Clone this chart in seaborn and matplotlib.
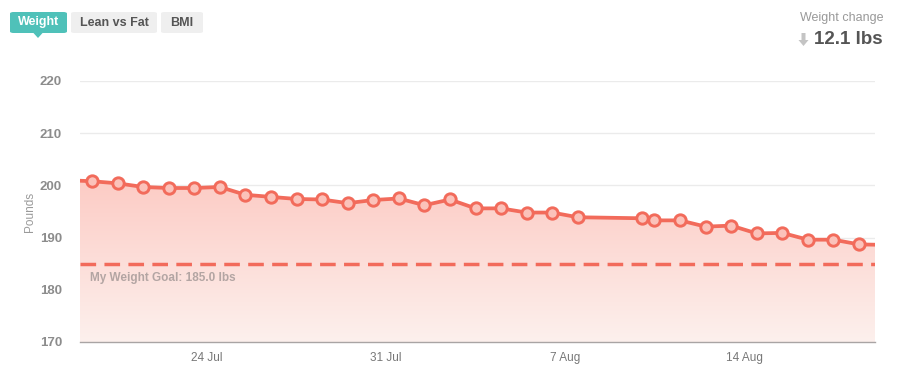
import numpy as np
import pandas as pd
import matplotlib
matplotlib.use("Agg")
import matplotlib.pyplot as plt
import matplotlib.dates as mdates
from matplotlib.patches import FancyBboxPatch, Polygon
from matplotlib.colors import LinearSegmentedColormap
import seaborn as sns

# ---------------- data ----------------
dates = [
    "2017-07-18 12:00",  # lead-in point (off-chart, left)
    "2017-07-19 12:00", "2017-07-20 12:00", "2017-07-21 12:00", "2017-07-22 12:00",
    "2017-07-23 12:00", "2017-07-24 12:00", "2017-07-25 12:00", "2017-07-26 12:00",
    "2017-07-27 12:00", "2017-07-28 12:00", "2017-07-29 12:00", "2017-07-30 12:00",
    "2017-07-31 12:00", "2017-08-01 12:00", "2017-08-02 12:00", "2017-08-03 12:00",
    "2017-08-04 12:00", "2017-08-05 12:00", "2017-08-06 12:00", "2017-08-07 12:00",
    "2017-08-10 00:30", "2017-08-10 12:00", "2017-08-11 12:00", "2017-08-12 12:00",
    "2017-08-13 12:00", "2017-08-14 12:00", "2017-08-15 12:00", "2017-08-16 12:00",
    "2017-08-17 12:00", "2017-08-18 12:00",
    "2017-08-19 12:00",  # trailing point (off-chart, right)
]
weights = [
    201.0,
    200.8, 200.4, 199.7, 199.5, 199.5, 199.7, 198.2, 197.8, 197.4, 197.3,
    196.6, 197.2, 197.5, 196.2, 197.3, 195.6, 195.6, 194.8, 194.8, 193.9,
    193.7, 193.3, 193.3, 192.1, 192.3, 190.8, 190.9, 189.6, 189.6, 188.7,
    188.6,
]
goal_weight = 185.0
weight_change = "12.1 lbs"
y_ticks = [170, 180, 190, 200, 210, 220]
x_tick_dates = ["2017-07-24", "2017-07-31", "2017-08-07", "2017-08-14"]
x_tick_labels = ["24 Jul", "31 Jul", "7 Aug", "14 Aug"]
tabs = ["Weight", "Lean vs Fat", "BMI"]

# ---------------- style ----------------
sns.set_theme(style="white")
plt.rcParams["font.family"] = ["Liberation Sans", "DejaVu Sans"]

LINE = "#f26b5b"
MFACE = "#fbc2ba"

W, H = 898, 373
fig = plt.figure(figsize=(W / 100, H / 100), dpi=100)
ax = fig.add_axes([80 / W, 31 / H, 795 / W, (342 - 81) / H])

df = pd.DataFrame({"date": pd.to_datetime(dates), "weight": weights})
xnum = mdates.date2num(df["date"])

x0 = mdates.date2num(pd.Timestamp("2017-07-19 00:45"))
x1 = mdates.date2num(pd.Timestamp("2017-08-19 03:00"))

# gridlines
for t in y_ticks[1:]:
    ax.axhline(t, color="#ebebeb", lw=1.0, zorder=0)

# gradient fill under the line
poly_xy = np.vstack([np.column_stack([xnum, df["weight"]]),
                     [[xnum[-1], 170], [xnum[0], 170]]])
clip = Polygon(poly_xy, closed=True, transform=ax.transData,
               facecolor="none", edgecolor="none")
ax.add_patch(clip)
cmap = LinearSegmentedColormap.from_list("g", ["#fdf0ed", "#fccbc4"])
grad = np.linspace(0, 1, 256).reshape(-1, 1)
im = ax.imshow(grad, cmap=cmap, aspect="auto", origin="lower",
               extent=[xnum[0], xnum[-1], 170, 201.5], zorder=1)
im.set_clip_path(clip)

# goal line
ax.axhline(goal_weight, color="#f26b5b", lw=2.5, dashes=(4.5, 2.4), zorder=2)
ax.text(x0 + 0.4, goal_weight - 2.8, f"My Weight Goal: {goal_weight:.1f} lbs",
        color="#b3a5a3", fontsize=8.5, fontweight="bold", va="center", ha="left",
        zorder=3)

# weight line
sns.lineplot(data=df, x="date", y="weight", ax=ax, color=LINE, lw=2.7,
             marker="o", markersize=8.2, markerfacecolor=MFACE,
             markeredgecolor=LINE, markeredgewidth=2.1, zorder=4)

ax.set_xlim(x0, x1)
ax.set_ylim(170, 220)
ax.set_yticks(y_ticks)
ax.set_yticklabels([str(t) for t in y_ticks], color="#8c8c8c",
                   fontsize=9.5, fontweight="bold")
ax.set_xticks(mdates.date2num(pd.to_datetime(x_tick_dates)))
ax.set_xticklabels(x_tick_labels, color="#777777", fontsize=8.5,
                   family=["Liberation Sans Narrow", "Liberation Sans", "DejaVu Sans"])
ax.tick_params(axis="y", length=0, pad=13)
ax.tick_params(axis="x", length=0, pad=7)
ax.set_xlabel("")
ax.set_ylabel("Pounds", color="#9a9a9a", fontsize=8.5, labelpad=3)
for s in ["top", "right", "left"]:
    ax.spines[s].set_visible(False)
ax.spines["bottom"].set_color("#a9a4a4")
ax.spines["bottom"].set_linewidth(1.0)
ax.spines["bottom"].set_zorder(5)

# ---------------- tabs ----------------
def px(x, y):
    return x / W, 1 - y / H

tab_boxes = [(10, 67, "#4fc1b9", "white"), (71, 157, "#efefef", "#555555"),
             (161, 203, "#efefef", "#555555")]
for (xa, xb, fc, tc), label in zip(tab_boxes, tabs):
    bx, by = px(xa, 33)
    bw = (xb - xa) / W
    bh = 21 / H
    fig.patches.append(FancyBboxPatch((bx, by), bw, bh,
                                      boxstyle="round,pad=0,rounding_size=0.004",
                                      transform=fig.transFigure, facecolor=fc,
                                      edgecolor="none"))
    cx, cy = px((xa + xb) / 2, 22.5)
    fig.text(cx, cy, label, color=tc, fontsize=9, fontweight="bold",
             ha="center", va="center")
# pointer under active tab
tri = Polygon([px(33, 32.5), px(43, 32.5), px(38, 38)], closed=True,
              transform=fig.transFigure, facecolor="#4fc1b9", edgecolor="none")
fig.patches.append(tri)

# ---------------- weight change ----------------
fig.text(*px(883, 18), "Weight change", color="#999999", fontsize=9,
         ha="right", va="center")
fig.text(*px(883, 40), weight_change, color="#555555", fontsize=13.5,
         fontweight="bold", ha="right", va="center")
arrow = Polygon([px(801.5, 33), px(805.5, 33), px(805.5, 40), px(808.5, 40),
                 px(803.5, 46), px(798.5, 40), px(801.5, 40)], closed=True,
                transform=fig.transFigure, facecolor="#c4c4c4", edgecolor="none")
fig.patches.append(arrow)

fig.savefig("out.png", dpi=100)
